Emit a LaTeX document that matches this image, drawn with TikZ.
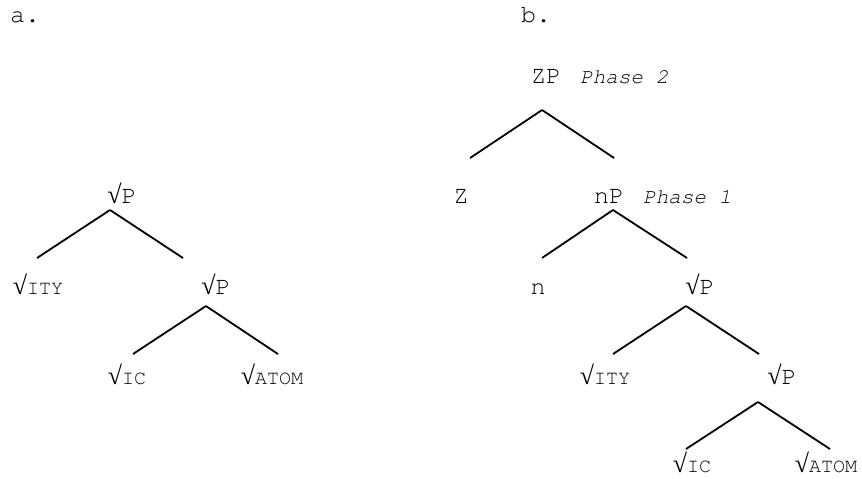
\documentclass[tikz,border=0pt]{standalone}
\usepackage{fontspec}
\setmainfont{TeX Gyre Cursor}
\newfontfamily\rootfont{Liberation Serif}
\newcommand{\rtsym}{{\rootfont\fontsize{26pt}{26pt}\selectfont\symbol{"221A}}}
\newcommand{\smc}[1]{{\fontsize{20pt}{20pt}\selectfont #1}}

\begin{document}
\begin{tikzpicture}[x=1pt, y=-1pt, font=\fontsize{25pt}{25pt}\selectfont,
    every node/.style={anchor=base, inner sep=0pt},
    branch/.style={line width=1.8pt},
    phase/.style={anchor=base west, font=\fontsize{21pt}{21pt}\selectfont\itshape}]
    \useasboundingbox (0,0) rectangle (862,479);
    % panel labels
    \node[anchor=base west] (alab) at (10,23) {a.};
    \node[anchor=base west] (blab) at (521,23) {b.};
    % tree a
    \foreach \name/\x/\y/\txt in {aRoot/122/203/{\rtsym P}, aIty/38/294/{\rtsym\smc{ITY}}, aP/216/294/{\rtsym P},
        aIc/127/384/{\rtsym\smc{IC}}, aAtom/272/384/{\rtsym\smc{ATOM}}} {
        \node (\name) at (\x,\y) {\txt};
    }
    % tree b
    \foreach \name/\x/\y/\txt in {bZP/546/83/ZP, bZ/461/203/Z, bnP/609/203/nP, bn/538/294/n, bPa/700/294/{\rtsym P},
        bIty/605/384/{\rtsym\smc{ITY}}, bPb/782/384/{\rtsym P}, bIc/692/472/{\rtsym\smc{IC}}, bAtom/826/472/{\rtsym\smc{ATOM}}} {
        \node (\name) at (\x,\y) {\txt};
    }
    \node[phase] (ph2) at (580,83) {Phase 2};
    \node[phase] (ph1) at (643,203) {Phase 1};
    % branches: parent/child/parent shift/child shift
    \foreach \p/\c/\px/\py/\cx/\cy in {aRoot/aIty/-12/7/-1/-36, aRoot/aP/-12/7/-33/-36,
        aP/aIc/-10/12/6/-30, aP/aAtom/-10/12/6/-30,
        bZP/bZ/-4/27/9/-45, bZP/bnP/-4/27/5/-45,
        bnP/bn/4/7/4/-36, bnP/bPa/4/7/-13/-36,
        bPa/bIty/-14/12/8/-30, bPa/bPb/-14/12/-23/-30,
        bPb/bIc/-24/18/-6/-23, bPb/bAtom/-24/18/4/-23} {
        \draw[branch] ([shift={(\px,\py)}]\p.base) -- ([shift={(\cx,\cy)}]\c.base);
    }
\end{tikzpicture}
\end{document}
